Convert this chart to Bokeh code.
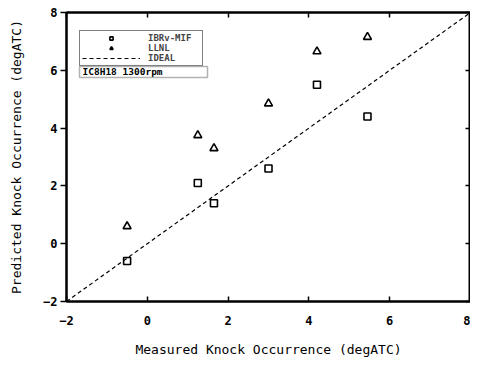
from bokeh.plotting import figure
from bokeh.models import (Range1d, LinearAxis, Legend, LegendItem, Label,
                          BoxAnnotation, FixedTicker, ColumnDataSource)
from bokeh.embed import file_html
from bokeh.resources import INLINE

# ---- data ----
measured = [-0.5, 1.25, 1.65, 3.0, 4.2, 5.45]
brw_mif = [-0.6, 2.1, 1.4, 2.6, 5.5, 4.4]
llnl = [0.6, 3.75, 3.3, 4.85, 6.65, 7.15]
ideal_x = [-2, 8]
ideal_y = [-2, 8]
ticks = [-2, 0, 2, 4, 6, 8]
series_labels = ["IBRv-MIF", "LLNL", "IDEAL"]
case_label = "IC8H18 1300rpm"
x_title = "Measured Knock Occurrence (degATC)"
y_title = "Predicted Knock Occurrence (degATC)"

FONT = "DejaVu Sans Mono"

p = figure(width=470, height=361, output_backend="svg", toolbar_location=None,
           x_range=Range1d(-2, 8), y_range=Range1d(-2, 8),
           min_border_left=66, min_border_right=0, min_border_top=12,
           min_border_bottom=60)
p.background_fill_color = "white"
p.border_fill_color = "white"
p.grid.visible = False
p.outline_line_color = "black"
p.outline_line_width = 2

src = ColumnDataSource(dict(x=measured, brw=brw_mif, llnl=llnl))

r_sq = p.scatter("x", "brw", source=src, marker="square", size=7,
                 fill_color=None, line_color="black", line_width=1.6)
r_tr = p.scatter("x", "llnl", source=src, marker="triangle", size=8,
                 fill_color=None, line_color="black", line_width=1.6)
r_id = p.line(ideal_x, ideal_y, line_color="black", line_width=1.2,
              line_dash="4 3")

for ax in (p.xaxis[0], p.yaxis[0]):
    ax.ticker = FixedTicker(ticks=ticks)
    ax.axis_line_color = "black"
    ax.axis_line_width = 2
    ax.major_tick_line_color = "black"
    ax.major_tick_line_width = 1.5
    ax.minor_tick_line_color = None
    ax.major_label_text_font = FONT
    ax.major_label_text_font_size = "12px"
    ax.major_label_text_font_style = "bold"
    ax.major_label_text_color = "black"
    ax.axis_label_text_font = FONT
    ax.axis_label_text_font_size = "13px"
    ax.axis_label_text_font_style = "normal"
    ax.axis_label_text_color = "black"

p.xaxis[0].axis_label = x_title
p.xaxis[0].major_tick_in = 5
p.xaxis[0].major_tick_out = 0
p.xaxis[0].major_label_standoff = 14
p.xaxis[0].axis_label_standoff = 14

p.yaxis[0].axis_label = y_title
p.yaxis[0].major_tick_in = 0
p.yaxis[0].major_tick_out = 6
p.yaxis[0].major_label_standoff = 3
p.yaxis[0].axis_label_standoff = 16

for side in ("above", "right"):
    ax = LinearAxis(ticker=FixedTicker(ticks=ticks), major_label_text_font_size="1px",
                    axis_line_color="black", axis_line_width=2,
                    major_tick_in=5, major_tick_out=0, major_tick_line_width=1.5,
                    major_label_standoff=0, minor_tick_line_color=None)
    ax.major_label_text_alpha = 0
    p.add_layout(ax, side)

legend = Legend(items=[LegendItem(label=series_labels[0], renderers=[r_sq]),
                       LegendItem(label=series_labels[1], renderers=[r_tr]),
                       LegendItem(label=series_labels[2], renderers=[r_id])],
                location=(13, 235), orientation="vertical",
                glyph_width=58, glyph_height=8, label_height=8,
                label_width=52, label_standoff=8, padding=2, spacing=-3,
                margin=0,
                label_text_font=FONT, label_text_font_size="9px",
                label_text_font_style="bold",
                border_line_color="black", border_line_width=1.5,
                background_fill_color="white", background_fill_alpha=1)
p.add_layout(legend)

box = BoxAnnotation(left=13, right=141, top=235, bottom=224,
                    left_units="screen", right_units="screen",
                    top_units="screen", bottom_units="screen",
                    fill_color="white", fill_alpha=1,
                    line_color="black", line_width=1.5)
p.add_layout(box)
p.add_layout(Label(x=16, y=225, x_units="screen", y_units="screen",
                   text=case_label, text_font=FONT, text_font_size="9.5px",
                   text_font_style="bold", text_color="black"))

open("out.html", "w").write(file_html(p, INLINE))
